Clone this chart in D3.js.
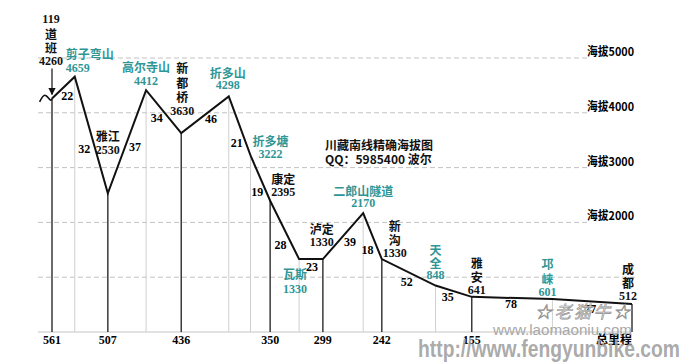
<!DOCTYPE html>
<html>
<head>
<meta charset="utf-8">
<script src="https://cdn.jsdelivr.net/npm/d3@7/dist/d3.min.js"></script>
<style>
    body { margin: 0; background: #fff; }
    svg { display: block; }
    .num { font-family: "Liberation Serif", "DejaVu Serif", serif; font-weight: bold; font-size: 12px; }
    .cjk { font-family: "Noto Sans CJK SC", sans-serif; font-weight: bold; font-size: 12px; }
</style>
</head>
<body>
<svg id="profileSVG" width="682" height="362"></svg>
<script>

// places along the route, km left to Chengdu and altitude (m)
const places = ["119道班", "剪子弯山", "雅江", "高尔寺山", "新都桥", "折多山", "折多塘", "康定",
    "瓦斯", "泸定", "二郎山隧道", "新沟", "天全", "雅安", "邛崃", "成都"];
const kmLeft = [561, 539, 507, 470, 436, 390, 369, 350, 322, 299, 260, 242, 190, 155, 77, 0];
const altitude = [4260, 4659, 2530, 4412, 3630, 4298, 3222, 2395, 1330, 1330, 2170, 1330, 848, 641, 601, 512];
const passes = ["剪子弯山", "高尔寺山", "折多山", "折多塘", "瓦斯", "二郎山隧道", "天全", "邛崃"];

// distances between consecutive places
const legs = [22, 32, 37, 34, 46, 21, 19, 28, 23, 39, 18, 52, 35, 78, 77];

// axis
const axisTicks = [561, 507, 436, 350, 299, 242, 155];
const gridLevels = [5000, 4000, 3000, 2000, 1000];
const gridLabels = ["海拔5000", "海拔4000", "海拔3000", "海拔2000"];

// the little squiggle before the first place
const leadKm = [573, 568, 563, 561];
const leadAlt = [4200, 4320, 4240, 4260];

const svg = d3.select('#profileSVG');

const x = d3.scaleLinear().domain([561, 0]).range([52, 632]);
const y = d3.scaleLinear().domain([0, 5000]).range([332, 58]);

const pts = places.map((p, i) => ({
    name: p, km: kmLeft[i], alt: altitude[i],
    X: x(kmLeft[i]), Y: y(altitude[i]),
    teal: passes.includes(p)
}));

const TEAL = '#2f9696';

// grid lines
svg.append('g').selectAll('line')
    .data(gridLevels)
    .enter()
    .append('line')
    .attr('x1', 38).attr('x2', (d) => d === 1000 ? 638 : 588)
    .attr('y1', (d) => y(d)).attr('y2', (d) => y(d))
    .attr('stroke', '#c2c2c2')
    .attr('stroke-dasharray', '5,3');

svg.append('g').selectAll('text')
    .data(gridLabels)
    .enter()
    .append('text')
    .attr('class', 'cjk')
    .attr('x', 634)
    .attr('y', (d, i) => y(gridLevels[i]) - 2)
    .attr('text-anchor', 'end')
    .attr('textLength', 47)
    .attr('lengthAdjust', 'spacingAndGlyphs')
    .text((d) => d);

// base line
svg.append('line')
    .attr('x1', 38).attr('x2', x(0))
    .attr('y1', y(0)).attr('y2', y(0))
    .attr('stroke', '#c4c4c4');

// verticals: dark where the km is on the axis
svg.append('g').selectAll('line')
    .data(pts)
    .enter()
    .append('line')
    .attr('x1', (d) => d.X).attr('x2', (d) => d.X)
    .attr('y1', (d) => d.Y).attr('y2', y(0))
    .attr('stroke', (d) => (axisTicks.includes(d.km) || d.km === 0) ? '#3a3a3a' : '#cfcfcf')
    .attr('stroke-width', (d) => (axisTicks.includes(d.km) || d.km === 0) ? 1.5 : 1);

// profile
const line = d3.line().x((d) => d.X).y((d) => d.Y);
svg.append('path')
    .datum(pts)
    .attr('d', line)
    .attr('fill', 'none')
    .attr('stroke', '#111')
    .attr('stroke-width', 2);

svg.append('path')
    .datum(leadKm.map((k, i) => ({X: x(k), Y: y(leadAlt[i])})))
    .attr('d', d3.line().x((d) => d.X).y((d) => d.Y).curve(d3.curveNatural))
    .attr('fill', 'none')
    .attr('stroke', '#111')
    .attr('stroke-width', 1.6);

// arrow to the start
svg.append('defs').append('marker')
    .attr('id', 'arrowHead')
    .attr('viewBox', '0 0 10 10')
    .attr('refX', 9).attr('refY', 5)
    .attr('markerWidth', 6).attr('markerHeight', 6)
    .attr('orient', 'auto')
    .append('path').attr('d', 'M0,0 L10,5 L0,10 z').attr('fill', '#111');

svg.append('line')
    .attr('x1', pts[0].X).attr('x2', pts[0].X)
    .attr('y1', pts[0].Y - 30).attr('y2', pts[0].Y - 4)
    .attr('stroke', '#111').attr('stroke-width', 1.2)
    .attr('marker-end', 'url(#arrowHead)');

// label layout: offset from the point, line gap, whether name is stacked, anchor
const labelPos = [
    {dx: -1, dy: -80, gap: 14, stack: true},
    {dx: -9, dy: -24, gap: 15, anchor: 'start'},
    {dx: 0, dy: -58, gap: 15},
    {dx: 0, dy: -24, gap: 15},
    {dx: 1, dy: -66, gap: 14.5, stack: true},
    {dx: -1, dy: -24, gap: 13},
    {dx: 20, dy: -15, gap: 14},
    {dx: 13, dy: -23, gap: 14},
    {dx: -4, dy: 14, gap: 16},
    {dx: -1, dy: -31, gap: 14},
    {dx: 0, dy: -23, gap: 13},
    {dx: 13, dy: -34, gap: 14, stack: true},
    {dx: 0, dy: -37, gap: 13, stack: true},
    {dx: 5, dy: -35, gap: 14, stack: true},
    {dx: -5, dy: -36, gap: 14.5, stack: true},
    {dx: -4, dy: -36, gap: 14, stack: true}
];

const labels = svg.append('g').selectAll('text')
    .data(pts)
    .enter()
    .append('text')
    .attr('fill', (d) => d.teal ? TEAL : '#111')
    .attr('text-anchor', (d, i) => labelPos[i].anchor || 'middle')
    .attr('dominant-baseline', 'central');

labels.each(function (d, i) {
    const lp = labelPos[i];
    let lines;
    if (d.name === "119道班")
        lines = ["119", "道", "班"];
    else if (lp.stack)
        lines = d.name.split('');
    else
        lines = [d.name];
    lines.push(String(d.alt));
    d3.select(this).selectAll('tspan')
        .data(lines)
        .enter()
        .append('tspan')
        .attr('class', (t) => /^\d+$/.test(t) ? 'num' : 'cjk')
        .attr('x', d.X + lp.dx)
        .attr('y', (t, j) => d.Y + lp.dy + j * lp.gap)
        .text((t) => t);
});

// leg distances, placed near the middle of each segment
const legPos = [[4, 8], [-7, 14], [8, 5], [-7, 6], [6, 4], [-3, 17], [-3, 14], [-4, 15],
    [1, 8], [7, 6], [-5, 14], [-2, 10], [-6, 6], [-1, 6], [-2, 7]];

svg.append('g').selectAll('text')
    .data(legs)
    .enter()
    .append('text')
    .attr('class', 'num')
    .attr('text-anchor', 'middle')
    .attr('dominant-baseline', 'central')
    .attr('x', (d, i) => (pts[i].X + pts[i + 1].X) / 2 + legPos[i][0])
    .attr('y', (d, i) => (pts[i].Y + pts[i + 1].Y) / 2 + legPos[i][1])
    .text((d) => d);

// title
const title = svg.append('text').attr('class', 'cjk').attr('fill', '#111');
title.append('tspan').attr('x', 325).attr('y', 150).text('川藏南线精确海拔图');
title.append('tspan').attr('x', 325).attr('y', 164).text('QQ：5985400  波尔');

// axis labels
svg.append('g').selectAll('text')
    .data(axisTicks)
    .enter()
    .append('text')
    .attr('class', 'num')
    .attr('text-anchor', 'middle')
    .attr('x', (d) => x(d))
    .attr('y', y(0) + 12)
    .text((d) => d);

svg.append('text')
    .attr('class', 'cjk')
    .attr('text-anchor', 'end')
    .attr('x', x(0))
    .attr('y', y(0) + 12)
    .text('总里程');

// watermarks
svg.append('text')
    .attr('x', 535).attr('y', 318)
    .attr('font-family', '"Noto Sans CJK SC", sans-serif')
    .attr('font-style', 'italic')
    .attr('font-size', 17)
    .attr('textLength', 95)
    .attr('fill', '#e4e4e4')
    .attr('stroke', '#8f8f8f')
    .attr('stroke-width', 0.6)
    .text('☆老猫牛☆');

svg.append('text')
    .attr('x', 493).attr('y', 335)
    .attr('font-family', '"Liberation Sans", sans-serif')
    .attr('font-size', 14)
    .attr('textLength', 139)
    .attr('lengthAdjust', 'spacingAndGlyphs')
    .attr('fill', '#a8a8a8')
    .text('www.laomaoniu.com');

svg.append('text')
    .attr('x', 418).attr('y', 357)
    .attr('font-family', '"Liberation Sans Narrow", "Liberation Sans", sans-serif')
    .attr('font-weight', 'bold')
    .attr('font-size', 23)
    .attr('textLength', 262)
    .attr('lengthAdjust', 'spacingAndGlyphs')
    .attr('fill', '#a0a0a0')
    .attr('fill-opacity', 0.9)
    .text('http://www.fengyunbike.com');

</script>
</body>
</html>
